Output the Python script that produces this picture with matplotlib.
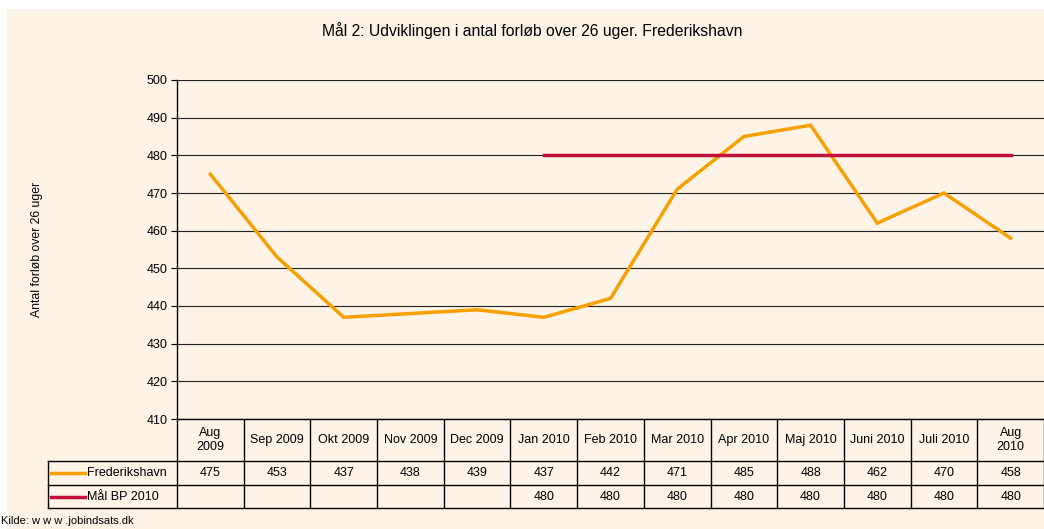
import matplotlib
matplotlib.use("Agg")
import matplotlib.pyplot as plt
import matplotlib.transforms as mtransforms
from matplotlib.patches import Rectangle
import numpy as np

plt.rcParams['font.family'] = ['Liberation Sans', 'DejaVu Sans']

# data
maaneder = ["Aug\n2009", "Sep 2009", "Okt 2009", "Nov 2009", "Dec 2009", "Jan 2010",
            "Feb 2010", "Mar 2010", "Apr 2010", "Maj 2010", "Juni 2010", "Juli 2010",
            "Aug\n2010"]
frederikshavn = [475, 453, 437, 438, 439, 437, 442, 471, 485, 488, 462, 470, 458]
maal_bp = [None, None, None, None, None, 480, 480, 480, 480, 480, 480, 480, 480]
serier = ["Frederikshavn", "Mål BP 2010"]
farver = ["#F7A000", "#C0113C"]
bg = "#FDF3E6"

W, H = 1044, 529
fig = plt.figure(figsize=(W / 100, H / 100), dpi=100)
fig.patch.set_facecolor("white")
fig.patches.append(Rectangle((7 / W, 0), 1 - 7 / W, 1 - 9 / H, transform=fig.transFigure,
                             facecolor=bg, edgecolor="none", zorder=-10))

x0, x1 = 177, 1044
ytop, ybot = 80, 419
ax = fig.add_axes([x0 / W, 1 - ybot / H, (x1 - x0) / W, (ybot - ytop) / H])
ax.set_facecolor(bg)
n = len(maaneder)
x = np.arange(n)
ax.set_xlim(-0.5, n - 0.5)
ax.set_ylim(410, 500)
ax.set_yticks(np.arange(410, 501, 10))
ax.tick_params(axis="y", labelsize=9, length=4, width=0.8, pad=3)
ax.set_xticks([])
for s in ["top", "right", "bottom"]:
    ax.spines[s].set_visible(False)
ax.spines["left"].set_linewidth(1.0)
ax.yaxis.grid(True, color="#222222", linewidth=0.8)
ax.set_axisbelow(True)

y_maal = np.array([np.nan if v is None else v for v in maal_bp], dtype=float)
ax.plot(x, frederikshavn, color=farver[0], linewidth=2.5, solid_joinstyle="miter")
ax.plot(x, y_maal, color=farver[1], linewidth=2.5)

ax.set_ylabel("Antal forløb over 26 uger", fontsize=8.8)
ax.yaxis.set_label_coords(-134 / (x1 - x0), 0.5)

fig.text(532 / W, 1 - 31 / H, "Mål 2: Udviklingen i antal forløb over 26 uger. Frederikshavn",
         ha="center", va="center", fontsize=11.3)

# data table below axes (x in data coords, y in figure pixels)
tr = mtransforms.blended_transform_factory(ax.transData, fig.transFigure)
def fy(p):
    return 1 - p / H

row_y = [419, 461, 485, 508]
left_lab = -0.5 - (x0 - 48) / ((x1 - x0) / n)
kw = dict(transform=tr, color="black", linewidth=1.0, clip_on=False)
# horizontal lines
ax.plot([-0.5, n - 0.5], [fy(row_y[0])] * 2, **kw)
for yy in row_y[1:]:
    ax.plot([left_lab, n - 0.5], [fy(yy)] * 2, **kw)
# vertical lines
for i in range(n + 1):
    ax.plot([i - 0.5, i - 0.5], [fy(row_y[0]), fy(row_y[3])], **kw)
ax.plot([left_lab, left_lab], [fy(row_y[1]), fy(row_y[3])], **kw)

for i, lab in enumerate(maaneder):
    ax.text(i, fy((row_y[0] + row_y[1]) / 2), lab, transform=tr, ha="center", va="center",
            fontsize=9, linespacing=1.25)
    ax.text(i, fy((row_y[1] + row_y[2]) / 2), str(frederikshavn[i]), transform=tr,
            ha="center", va="center", fontsize=9)
    if maal_bp[i] is not None:
        ax.text(i, fy((row_y[2] + row_y[3]) / 2), str(maal_bp[i]), transform=tr,
                ha="center", va="center", fontsize=9)

for r, (navn, farve) in enumerate(zip(serier, farver)):
    yc = fy((row_y[r + 1] + row_y[r + 2]) / 2)
    ax.plot([left_lab + 0.05, left_lab + 0.55], [yc, yc], transform=tr, color=farve,
            linewidth=2.5, clip_on=False)
    ax.text(left_lab + 0.58, yc, navn, transform=tr, ha="left", va="center", fontsize=9)

fig.text(1 / W, 1 - 521 / H, "Kilde: w w w .jobindsats.dk", ha="left", va="center", fontsize=8)

fig.savefig("out.png", dpi=100, facecolor=fig.get_facecolor())
